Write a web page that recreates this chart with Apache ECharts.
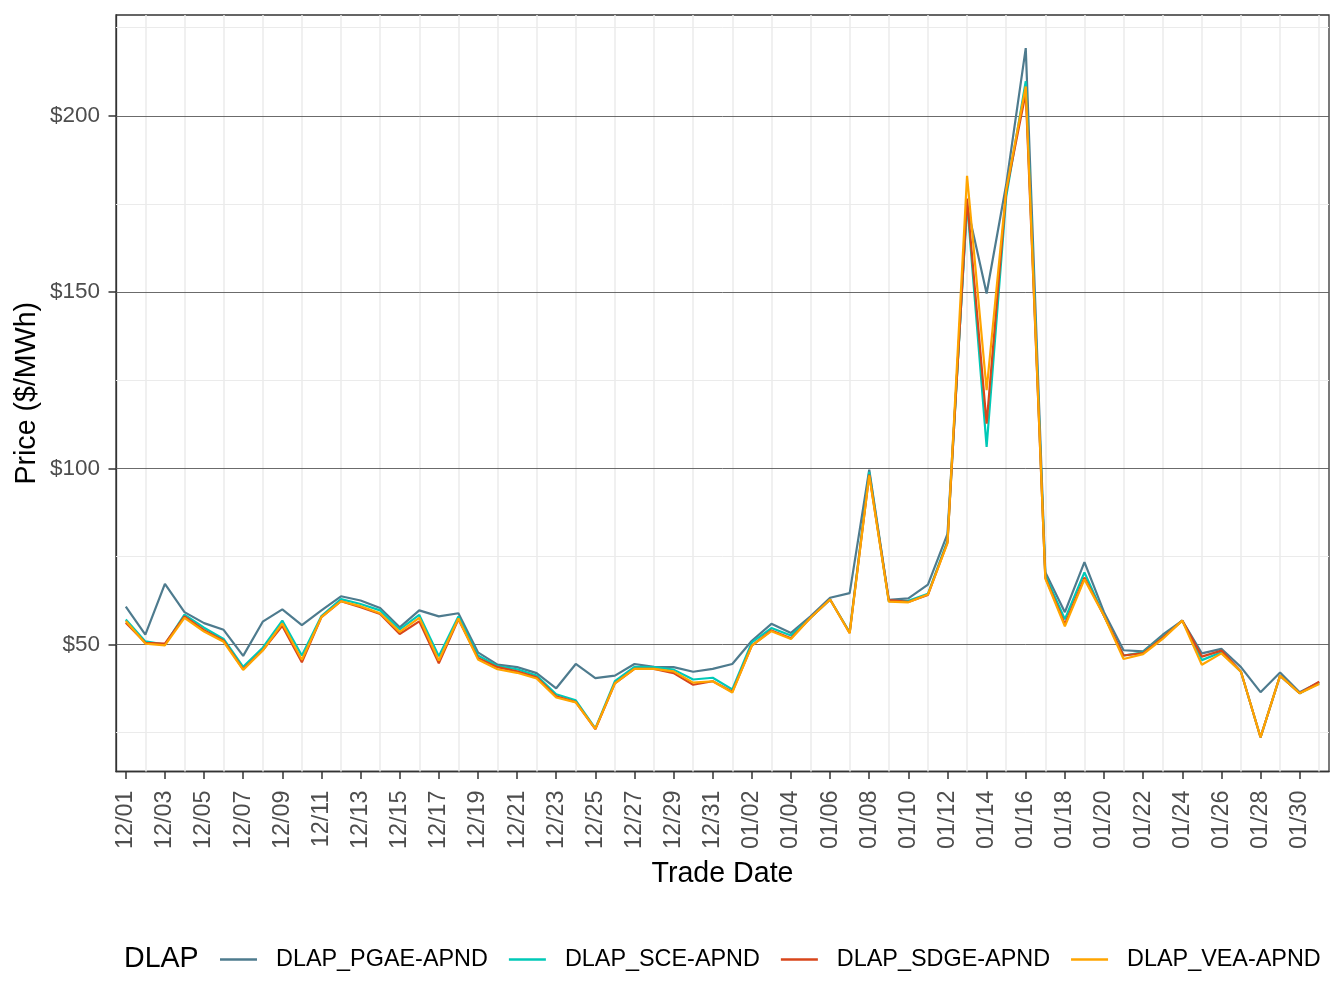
<!DOCTYPE html>
<html>
<head>
<meta charset="utf-8">
<script src="https://cdn.jsdelivr.net/npm/echarts@6/dist/echarts.min.js"></script>
<style>
  html, body { margin: 0; padding: 0; background: #fff; }
  #chart { width: 1344px; height: 1008px; }
</style>
</head>
<body>
<div id="chart"></div>
<script>
// trade dates 12/01 .. 01/31
var dates = [];
for (var d = 1; d <= 31; d++) dates.push('12/' + (d < 10 ? '0' + d : d));
for (var d2 = 1; d2 <= 31; d2++) dates.push('01/' + (d2 < 10 ? '0' + d2 : d2));

var seriesNames = ['DLAP_PGAE-APND', 'DLAP_SCE-APND', 'DLAP_SDGE-APND', 'DLAP_VEA-APND'];
var seriesColors = ['#4e7b8e', '#00c9b7', '#d8461b', '#ffa500'];

var pgae = [60.8, 52.8, 67.2, 59.2, 56.1, 54.2, 46.8, 56.5, 60.0, 55.5,
            59.7, 63.7, 62.5, 60.4, 54.9, 59.7, 58.0, 58.9, 47.8, 44.3,
            43.6, 41.9, 37.6, 44.5, 40.5, 41.2, 44.5, 43.7, 43.6, 42.3,
            43.1, 44.5, 51.1, 55.9, 53.3, 58.0, 63.3, 64.6, 99.6, 62.7,
            63.1, 67.0, 81.4, 174.5, 149.6, 180.5, 219.2, 70.5, 59.2, 73.4,
            59.2, 48.4, 48.1, 52.8, 56.8, 47.5, 48.8, 43.6, 36.5, 42.1,
            36.5, 39.3];
var sce = [57.1, 50.9, 50.0, 58.5, 54.8, 51.6, 43.7, 49.1, 56.8, 46.9,
           58.1, 62.9, 61.5, 59.7, 54.3, 58.4, 46.7, 58.0, 46.9, 43.9,
           43.0, 41.2, 35.9, 34.2, 26.2, 39.6, 43.7, 43.6, 42.9, 40.1,
           40.6, 37.3, 50.6, 54.7, 52.6, 57.6, 62.8, 53.5, 99.0, 62.3,
           62.4, 64.4, 79.5, 175.5, 106.1, 177.0, 209.8, 69.6, 57.2, 70.5,
           58.2, 46.9, 47.8, 52.1, 56.8, 45.6, 47.8, 42.3, 23.7, 41.2,
           36.2, 39.0];
var sdge = [56.2, 50.5, 50.3, 58.0, 54.1, 51.1, 43.0, 48.4, 55.3, 45.0,
            57.8, 62.3, 60.6, 58.7, 53.0, 56.6, 44.7, 57.2, 46.2, 43.6,
            42.4, 40.7, 35.3, 33.7, 26.0, 39.0, 43.1, 43.1, 41.9, 38.6,
            39.6, 36.6, 49.7, 54.0, 51.8, 57.6, 62.8, 53.3, 98.2, 62.6,
            62.1, 64.1, 79.0, 176.5, 112.7, 178.5, 206.5, 69.0, 55.8, 69.0,
            58.2, 46.9, 47.6, 52.0, 56.8, 46.6, 48.3, 42.3, 23.7, 41.2,
            36.2, 39.5];
var vea = [56.7, 50.3, 49.8, 57.6, 53.7, 50.8, 42.8, 48.3, 56.0, 45.7,
           57.8, 62.3, 60.9, 58.9, 53.6, 57.6, 45.5, 57.4, 45.8, 43.0,
           42.0, 40.4, 35.0, 33.6, 26.1, 39.0, 43.1, 43.1, 42.4, 39.2,
           39.6, 36.4, 49.7, 53.8, 51.6, 57.6, 62.8, 53.2, 98.0, 62.2,
           62.0, 64.2, 78.8, 183.0, 122.2, 179.0, 208.3, 68.7, 55.2, 68.5,
           58.2, 45.9, 47.3, 51.6, 56.8, 44.3, 47.5, 42.3, 23.7, 41.2,
           36.2, 38.8];
var seriesValues = [pgae, sce, sdge, vea];

var yMajor = [50, 100, 150, 200];
var yMinor = [25, 75, 125, 175, 225];

var font = 'Liberation Sans, Arial, sans-serif';

var chart = echarts.init(document.getElementById('chart'));

// grid lines drawn as mark lines so they sit exactly on ticks / day centres
var gridLines = [];
yMinor.forEach(function (v) {
  gridLines.push({ yAxis: v, lineStyle: { color: '#ebebeb', width: 1, type: 'solid' } });
});
dates.forEach(function (dt, i) {
  if (i % 2 === 1) gridLines.push({ xAxis: dt, lineStyle: { color: '#ebebeb', width: 1.5, type: 'solid' } });
});
yMajor.forEach(function (v) {
  gridLines.push({ yAxis: v, lineStyle: { color: '#5a5a5a', width: 0.9, type: 'solid' } });
});

var series = [{
  name: 'grid',
  type: 'line',
  data: [],
  silent: true,
  z: 1,
  markLine: {
    silent: true,
    symbol: 'none',
    label: { show: false },
    z: 1,
    animation: false,
    lineStyle: { type: 'solid' },
    data: gridLines
  }
}];
seriesNames.forEach(function (name, k) {
  series.push({
    name: name,
    type: 'line',
    data: seriesValues[k],
    symbol: 'none',
    z: 3 + k,
    lineStyle: { color: seriesColors[k], width: 2.2 },
    itemStyle: { color: seriesColors[k] }
  });
});

var option = {
  animation: false,
  backgroundColor: '#fff',
  title: {
    text: 'DLAP',
    left: 119,
    top: 940,
    textStyle: { fontFamily: font, fontSize: 28.6, fontWeight: 'normal', color: '#000' }
  },
  legend: {
    data: seriesNames,
    left: 215,
    top: 943,
    icon: 'rect',
    itemWidth: 37,
    itemHeight: 2.5,
    itemGap: 21,
    textStyle: { fontFamily: font, fontSize: 23.4, color: '#000', padding: [0, 0, 0, 14] }
  },
  grid: {
    left: 116,
    right: 15,
    top: 15,
    bottom: 236.5,
    show: true,
    borderColor: '#333',
    borderWidth: 1.3,
    backgroundColor: 'transparent'
  },
  xAxis: {
    type: 'category',
    data: dates,
    boundaryGap: true,
    name: 'Trade Date',
    nameLocation: 'middle',
    nameGap: 88,
    nameTextStyle: { fontFamily: font, fontSize: 28.6, color: '#000' },
    axisLine: { show: true, lineStyle: { color: '#333', width: 1.3 } },
    axisTick: { show: true, alignWithLabel: true, interval: 1, length: 7.5, lineStyle: { color: '#333', width: 1.5 } },
    axisLabel: { interval: 1, rotate: 90, margin: 19, fontFamily: font, fontSize: 23.4, color: '#4d4d4d' },
    splitLine: { show: false }
  },
  yAxis: {
    type: 'value',
    min: 14.0,
    max: 228.6,
    name: 'Price ($/MWh)',
    nameLocation: 'middle',
    nameGap: 74,
    nameMoveOverlap: false,
    nameTextStyle: { fontFamily: font, fontSize: 28.6, color: '#000' },
    axisLine: { show: true, lineStyle: { color: '#333', width: 1.3 } },
    axisTick: { show: true, customValues: yMajor, length: 7.5, lineStyle: { color: '#333', width: 1.5 } },
    axisLabel: {
      customValues: yMajor,
      margin: 16,
      fontFamily: font,
      fontSize: 22.5,
      color: '#4d4d4d',
      formatter: function (v) { return '$' + v; }
    },
    splitLine: { show: false },
    minorSplitLine: { show: false }
  },
  series: series
};

chart.setOption(option);
</script>
</body>
</html>
